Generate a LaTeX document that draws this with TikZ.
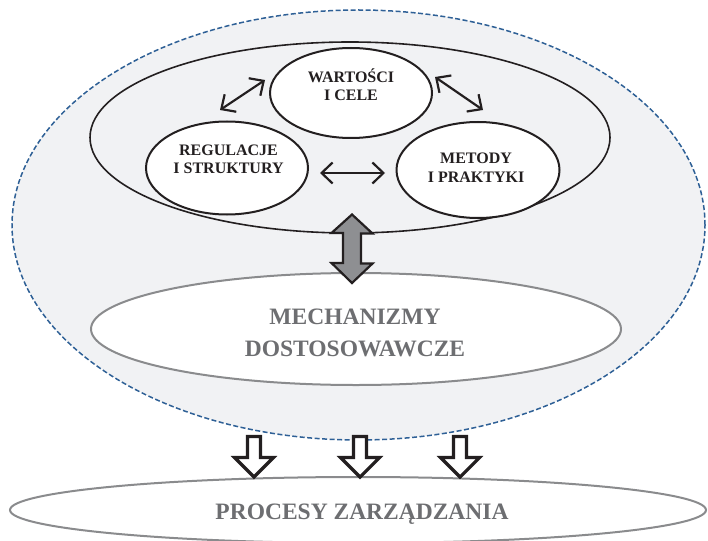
\documentclass[tikz,border=0pt]{standalone}
\usepackage{fontspec}
\setmainfont{Liberation Serif}
\usetikzlibrary{shapes.geometric,arrows.meta}
\definecolor{bgfill}{HTML}{F1F2F4}
\definecolor{dashblue}{HTML}{2E6096}
\definecolor{txtgray}{HTML}{6D6E71}
\definecolor{edgegray}{HTML}{8A8B8D}
\definecolor{inkblack}{HTML}{231F20}
\definecolor{arrowgray}{HTML}{8E8F92}
\begin{document}
\begin{tikzpicture}[x=1pt,y=-1pt,
  oval/.style={ellipse, inner sep=0pt, draw=inkblack, line width=2pt, fill=white},
  bigoval/.style={ellipse, inner sep=0pt, draw=edgegray, line width=2pt, fill=white},
  smalltxt/.style={font=\bfseries\fontsize{16}{18}\selectfont, text=inkblack, inner sep=0pt, anchor=base},
  bigtxt/.style={font=\bfseries\fontsize{23.5}{30}\selectfont, text=txtgray, inner sep=0pt, anchor=base},
  dbl/.style={{Straight Barb[length=11pt,width=21pt]}-{Straight Barb[length=11pt,width=21pt]}, line width=2.2pt, draw=inkblack},
  hollow/.style={draw=inkblack, fill=white, line width=3.2pt, line join=miter},
  grayarrow/.style={draw=inkblack, fill=arrowgray, line width=2.2pt, line join=miter},
]
\useasboundingbox (0,0) rectangle (708,540);

% outer dashed region
\node[ellipse, inner sep=0pt, minimum width=693pt, minimum height=430pt,
      draw=dashblue, dash pattern=on 5pt off 2.5pt, line width=1.5pt, fill=bgfill] (outer) at (358.5,225) {};

% inner ellipse
\node[ellipse, inner sep=0pt, minimum width=520pt, minimum height=191pt,
      draw=inkblack, line width=1.6pt] (inner) at (350,137.5) {};

% three small ellipses
\node[oval, minimum width=162pt, minimum height=90pt] (wc) at (351,93) {};
\node[oval, minimum width=162pt, minimum height=93pt] (rs) at (227,168) {};
\node[oval, minimum width=163pt, minimum height=96pt] (mp) at (478,170) {};

\node[smalltxt] (wc1) at (351,82.3) {WARTOŚCI};
\node[smalltxt] (wc2) at (351,100.3) {I CELE};
\node[smalltxt] (rs1) at (228.5,155.3) {REGULACJE};
\node[smalltxt] (rs2) at (228.5,173.3) {I STRUKTURY};
\node[smalltxt] (mp1) at (476,163.3) {METODY};
\node[smalltxt] (mp2) at (476,182) {I PRAKTYKI};

% double arrows between the small ellipses
\coordinate (a1) at (220,110);
\coordinate (a2) at (265,80);
\coordinate (b1) at (435,77);
\coordinate (b2) at (483,110);
\coordinate (c1) at (320,173);
\coordinate (c2) at (385,173);
\draw[dbl] (a1) -- (a2);
\draw[dbl] (b1) -- (b2);
\draw[dbl] (c1) -- (c2);

% adaptive mechanisms
\node[bigoval, minimum width=530pt, minimum height=112pt] (mech) at (356,329) {};
\node[bigtxt] (mech1) at (355,324.8) {MECHANIZMY};
\node[bigtxt] (mech2) at (355,356) {DOSTOSOWAWCZE};

% grey double block arrow
\coordinate (gtop) at (352,214.5);
\coordinate (gbot) at (352,283);
\draw[grayarrow] (gtop) -- ++(20.5,19) -- ++(-11.5,0) -- ++(0,30) -- ++(11.5,0)
  -- (gbot) -- ++(-20.5,-20) -- ++(11.5,0) -- ++(0,-30) -- ++(-11.5,0) -- cycle;

% management processes
\node[bigoval, minimum width=696pt, minimum height=66pt] (proc) at (358,510) {};
\node[bigtxt] (proc1) at (362,519.8) {PROCESY ZARZĄDZANIA};

% hollow arrows
\foreach \n/\x in {1/254,2/360,3/460}{
  \coordinate (h\n) at (\x,477);
  \draw[hollow] (h\n) -- ++(19.5,-19.5) -- ++(-13,0) -- ++(0,-21) -- ++(-13,0)
     -- ++(0,21) -- ++(-13,0) -- cycle;
}
\end{tikzpicture}
\end{document}
